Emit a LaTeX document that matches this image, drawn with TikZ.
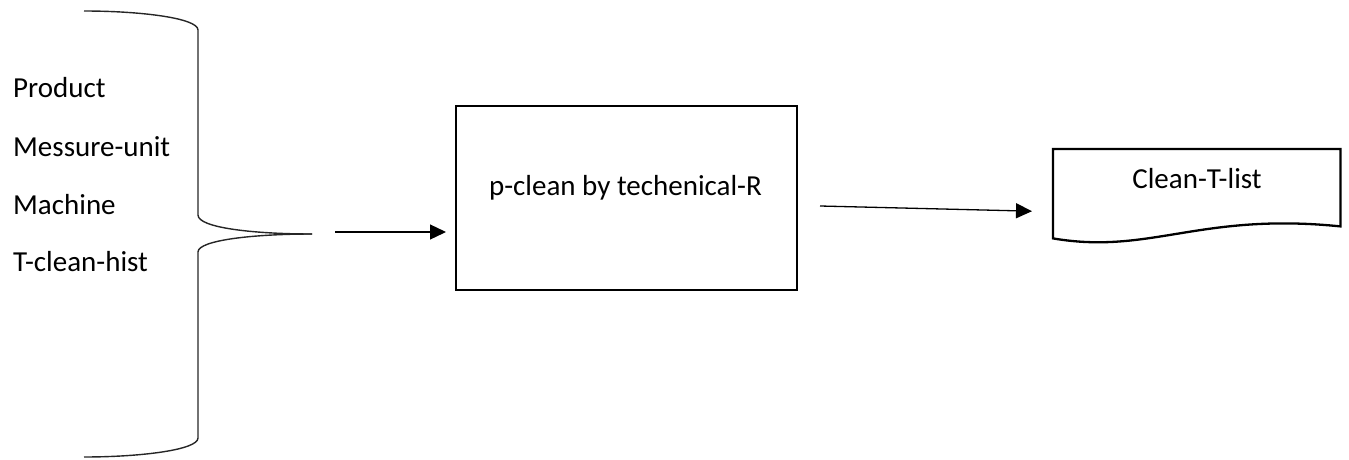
\documentclass[tikz,border=0pt]{standalone}
\usepackage{fontspec}
\setmainfont{Carlito}
\usetikzlibrary{arrows.meta}
\begin{document}
\begin{tikzpicture}[x=1pt,y=-1pt,
  txt/.style={font=\fontsize{29pt}{35pt}\selectfont, inner sep=0pt, anchor=base west},
  ctxt/.style={font=\fontsize{29pt}{35pt}\selectfont, inner sep=0pt, anchor=base},
  bracestyle/.style={line width=1.4pt, draw=black!85},
  arr/.style={line width=1.3pt, -{Triangle[length=16pt,width=15pt]}},
  procbox/.style={draw, line width=2.3pt, inner sep=0pt, minimum width=341pt, minimum height=184pt, anchor=north west},
  docbox/.style={inner sep=0pt, minimum width=287pt, minimum height=89pt, anchor=north west}]
\useasboundingbox (0,0) rectangle (1349,460);
% input list
\node[txt] (product) at (13,97) {Product};
\node[txt] (messure) at (13,156) {Messure-unit};
\node[txt] (machine) at (13,214) {Machine};
\node[txt] (tclean) at (13,271) {T-clean-hist};
% brace
\coordinate (btop) at (84,11);
\coordinate (btip) at (312,234);
\coordinate (bbot) at (84,457);
\draw[bracestyle] (btop) .. controls (140,11) and (198,18) .. (198,30)
  -- (198,215) .. controls (198,228) and (255,234) .. (btip);
\draw[bracestyle] (btip) .. controls (255,234) and (198,240) .. (198,252)
  -- (198,438) .. controls (198,450) and (140,457) .. (bbot);
% process box
\node[procbox] (box) at (455,105) {};
\node[ctxt] (boxtext) at (625.5,195) {p-clean by techenical-R};
% document shape
\node[docbox] (doc) at (1053,149) {};
\draw[line width=2.3pt] (doc.south west) -- (doc.north west) -- (doc.north east) -- ([yshift=12pt]doc.south east)
  .. controls (1200,212) and (1150,255) .. (doc.south west) -- cycle;
\node[ctxt] (doctext) at (1197,188) {Clean-T-list};
% arrows
\coordinate (a1s) at (335,232);
\draw[arr, shorten >=9pt] (a1s) -- (a1s -| box.west);
\coordinate (a2s) at (820,206);
\draw[arr] (a2s) -- ([xshift=-21pt,yshift=-17.5pt]doc.west);
\end{tikzpicture}
\end{document}
